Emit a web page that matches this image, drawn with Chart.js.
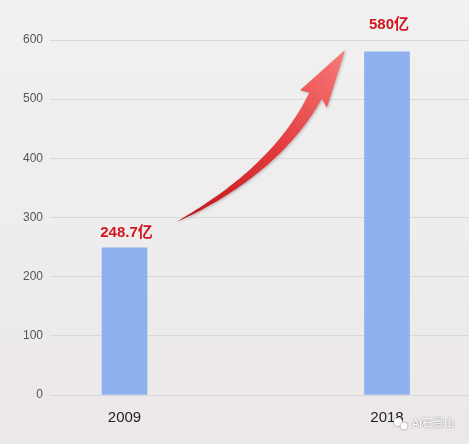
<!DOCTYPE html>
<html><head><meta charset="utf-8">
<script src="https://cdn.jsdelivr.net/npm/chart.js@4/dist/chart.umd.min.js"></script>
<style>html,body{margin:0;padding:0;background:#efefef;}#wrap{width:469px;height:444px;}</style>
</head><body><div id="wrap"><canvas id="c" width="469" height="444"></canvas></div>
<script>
const categories = ['2009', '2018'];
const values = [248.7, 580];
const valueLabels = ['248.7亿', '580亿'];
const yTicks = [0, 100, 200, 300, 400, 500, 600];
const watermark = 'Ai石景山';

const CJK = 'Arial, "Liberation Sans", "Noto Sans CJK SC", sans-serif';

const bgPlugin = {
  id: 'bg',
  beforeDraw(chart) {
    const {ctx, width, height} = chart;
    const g = ctx.createLinearGradient(0, 0, 0, height);
    g.addColorStop(0, '#f1f1f1');
    g.addColorStop(1, '#ece8e9');
    ctx.save(); ctx.fillStyle = g; ctx.fillRect(0, 0, width, height); ctx.restore();
  }
};

const decoPlugin = {
  id: 'deco',
  afterDatasetsDraw(chart) {
    const {ctx, chartArea} = chart;
    const xs = chart.scales.x, ys = chart.scales.y;
    // value labels
    ctx.save();
    ctx.font = 'bold 15px ' + CJK;
    ctx.fillStyle = '#d0161e';
    ctx.textAlign = 'center';
    ctx.textBaseline = 'middle';
    values.forEach((v, i) => {
      const x = xs.getPixelForValue(i) + 2;
      const top = ys.getPixelForValue(v);
      const y = (top - 15 > chartArea.top + 5) ? top - 15 : chartArea.top - 15;
      ctx.fillText(valueLabels[i], x, y);
    });
    ctx.restore();

    // curved arrow from first bar toward second
    const P0 = {x: xs.getPixelForValue(0.2), y: ys.getPixelForValue(293)};
    const P2 = {x: xs.getPixelForValue(0.728), y: ys.getPixelForValue(506)};
    const C  = {x: xs.getPixelForValue(0.58), y: ys.getPixelForValue(380)};
    const tip = {x: xs.getPixelForValue(0.84), y: ys.getPixelForValue(583)};
    const N = 40, maxW = 7;
    const left = [], right = [];
    for (let k = 0; k <= N; k++) {
      const t = k / N;
      const x = (1-t)*(1-t)*P0.x + 2*(1-t)*t*C.x + t*t*P2.x;
      const y = (1-t)*(1-t)*P0.y + 2*(1-t)*t*C.y + t*t*P2.y;
      const dx = 2*(1-t)*(C.x-P0.x) + 2*t*(P2.x-C.x);
      const dy = 2*(1-t)*(C.y-P0.y) + 2*t*(P2.y-C.y);
      const L = Math.hypot(dx, dy);
      const nx = -dy / L, ny = dx / L;
      const w = maxW * Math.pow(t, 0.75);
      left.push({x: x + nx*w, y: y + ny*w});
      right.push({x: x - nx*w, y: y - ny*w});
    }
    // head
    const hx = tip.x - P2.x, hy = tip.y - P2.y;
    const hl = Math.hypot(hx, hy);
    const hnx = -hy / hl, hny = hx / hl;
    const hw = 16;
    const back = 4;
    const b1 = {x: P2.x + hnx*hw - hx/hl*back, y: P2.y + hny*hw - hy/hl*back};
    const b2 = {x: P2.x - hnx*hw - hx/hl*back, y: P2.y - hny*hw - hy/hl*back};

    ctx.save();
    ctx.shadowColor = 'rgba(0,0,0,0.25)';
    ctx.shadowBlur = 3; ctx.shadowOffsetX = 1; ctx.shadowOffsetY = 1;
    const g = ctx.createLinearGradient(P0.x, P0.y, tip.x, tip.y);
    g.addColorStop(0, '#c0141a');
    g.addColorStop(0.5, '#e23a3c');
    g.addColorStop(1, '#f87a78');
    ctx.fillStyle = g;
    ctx.beginPath();
    ctx.moveTo(left[0].x, left[0].y);
    for (let k = 1; k < left.length; k++) ctx.lineTo(left[k].x, left[k].y);
    ctx.lineTo(b1.x, b1.y);
    ctx.lineTo(tip.x, tip.y);
    ctx.lineTo(b2.x, b2.y);
    for (let k = right.length - 1; k >= 0; k--) ctx.lineTo(right[k].x, right[k].y);
    ctx.closePath();
    ctx.fill();
    ctx.restore();

    // watermark
    ctx.save();
    ctx.font = '11px ' + CJK;
    ctx.textAlign = 'left';
    ctx.textBaseline = 'middle';
    ctx.fillStyle = '#ffffff';
    ctx.shadowColor = 'rgba(0,0,0,0.55)';
    ctx.shadowBlur = 2;
    ctx.fillText(watermark, 412, 424);
    ctx.beginPath(); ctx.arc(398, 422, 4, 0, Math.PI*2); ctx.fill();
    ctx.beginPath(); ctx.arc(404, 426, 3.5, 0, Math.PI*2); ctx.fill();
    ctx.restore();
  }
};

new Chart(document.getElementById('c'), {
  type: 'bar',
  data: {
    datasets: [{
      data: values.map((v, i) => ({x: i, y: v})),
      backgroundColor: '#8fb0ee',
      barThickness: 45,
      borderWidth: 0
    }]
  },
  options: {
    responsive: false,
    animation: false,
    devicePixelRatio: 1,
    layout: {padding: {top: 40, right: 0, left: 0, bottom: 0}},
    plugins: {legend: {display: false}, tooltip: {enabled: false}},
    scales: {
      x: {
        type: 'linear',
        min: -0.2838, max: 1.3124,
        offset: false,
        afterBuildTicks(s) { s.ticks = categories.map((c, i) => ({value: i})); },
        afterFit(s) { s.height = 49; },
        grid: {display: false, drawTicks: false},
        border: {display: false},
        ticks: {
          padding: 14,
          color: '#222',
          font: {size: 15, family: CJK},
          callback: (v) => categories[v] ?? ''
        }
      },
      y: {
        min: 0, max: 600,
        afterBuildTicks(s) { s.ticks = yTicks.map(v => ({value: v})); },
        afterFit(s) { s.width = 50; },
        grid: {color: '#d9d9d9', drawTicks: false, lineWidth: 1},
        border: {display: false},
        ticks: {padding: 7, color: '#555', font: {size: 12, family: CJK}}
      }
    }
  },
  plugins: [bgPlugin, decoPlugin]
});
</script></body></html>
